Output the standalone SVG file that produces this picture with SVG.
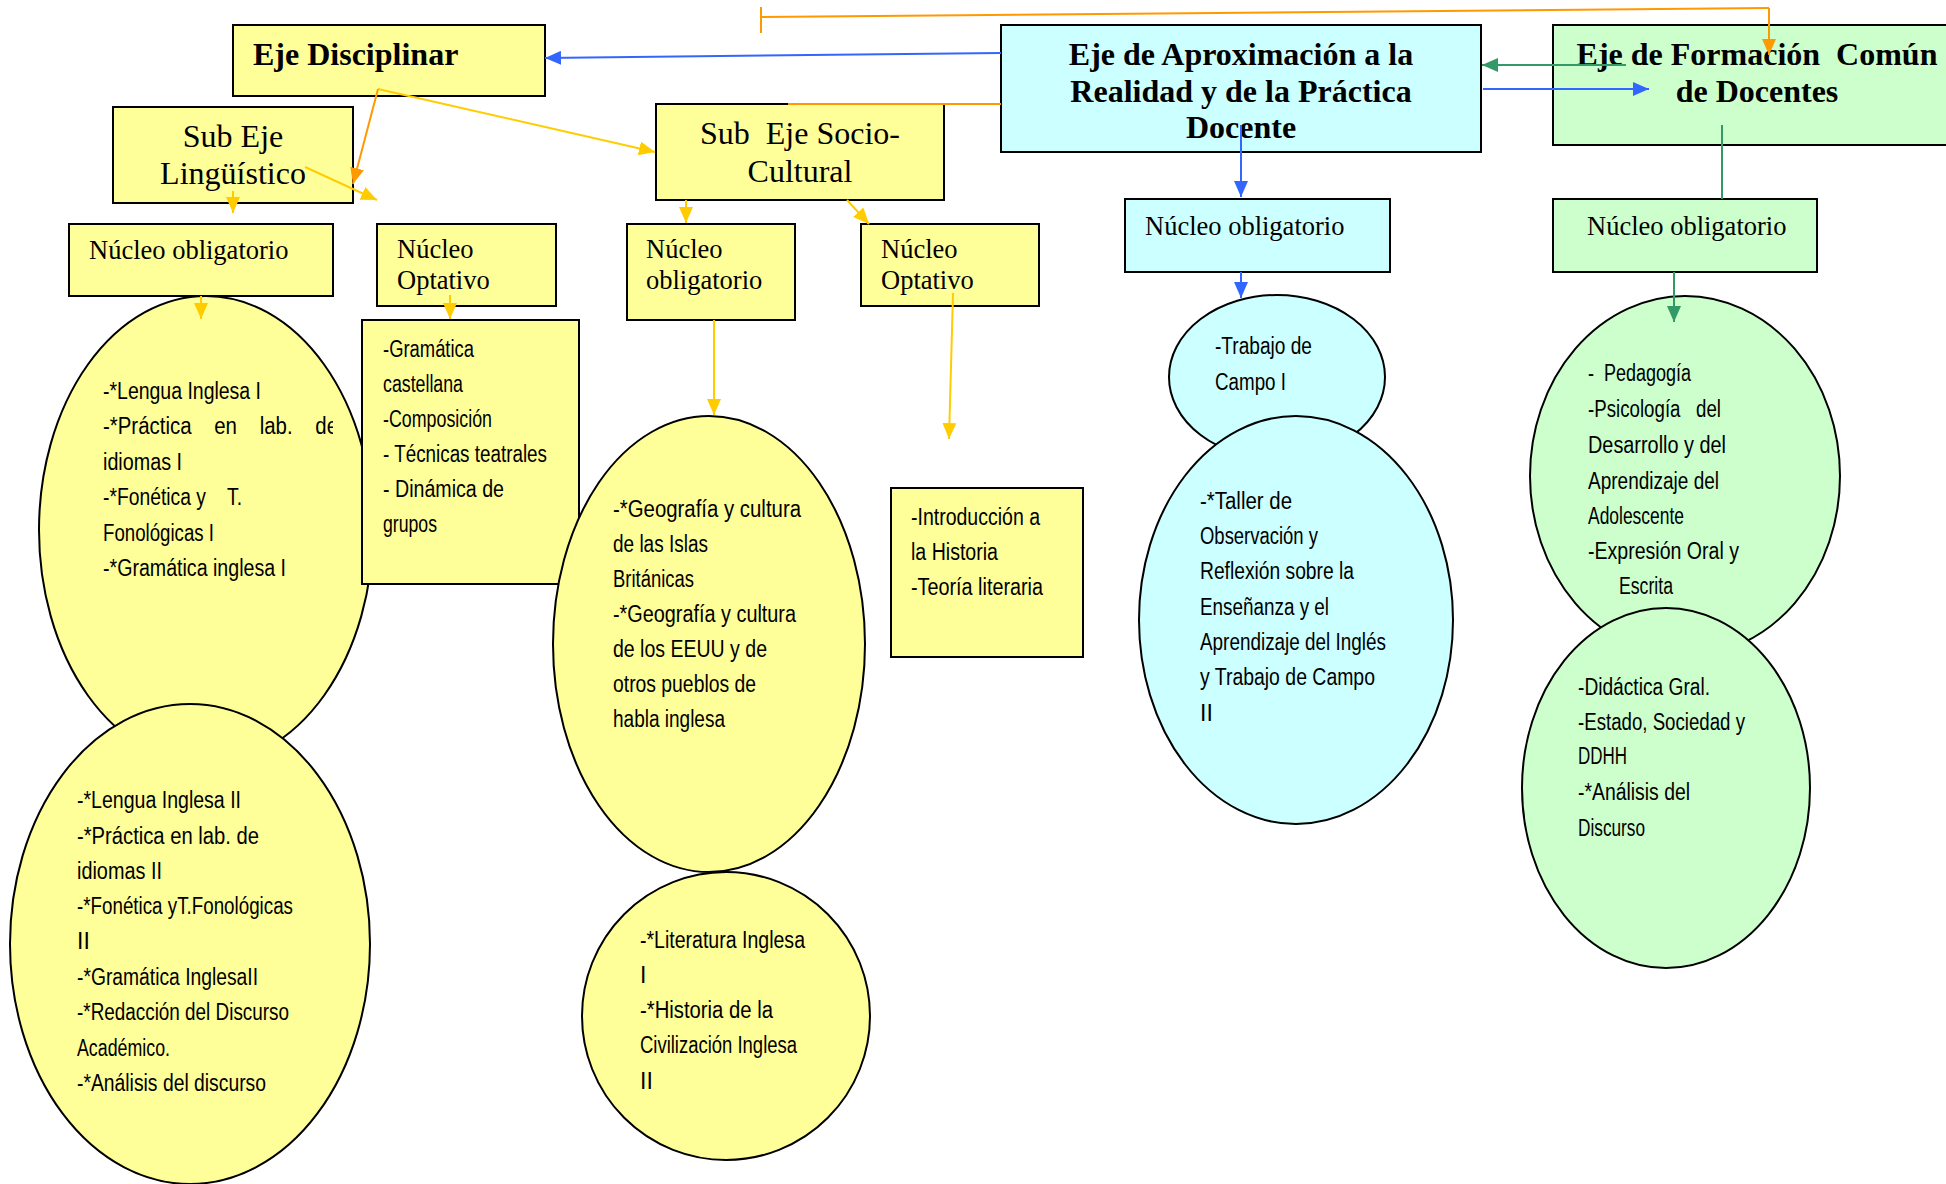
<svg xmlns="http://www.w3.org/2000/svg" width="1946" height="1184" viewBox="0 0 1946 1184">
<style>
.box{stroke:#000;stroke-width:2}
.y{fill:#FFFF99}
.c{fill:#CCFFFF}
.g{fill:#CCFFCC}
.hb{font-family:"Liberation Serif","Times New Roman",serif;font-weight:bold;font-size:32px;fill:#000}
.hr{font-family:"Liberation Serif","Times New Roman",serif;font-size:32px;fill:#000}
.nu{font-family:"Liberation Serif","Times New Roman",serif;font-size:26.5px;fill:#000}
.li{font-family:"Liberation Sans",Arial,sans-serif;font-size:23px;fill:#000}
.cy{fill:none;stroke:#FFCC00;stroke-width:2}
.co{fill:none;stroke:#FF9900;stroke-width:2}
.cb{fill:none;stroke:#3366FF;stroke-width:2}
.cg{fill:none;stroke:#339966;stroke-width:2}
</style>
<defs>
<marker id="ay" markerUnits="userSpaceOnUse" markerWidth="16" markerHeight="14" refX="16" refY="7" orient="auto"><path d="M0,0 L16,7 L0,14 z" fill="#FFCC00"/></marker>
<marker id="ao" markerUnits="userSpaceOnUse" markerWidth="16" markerHeight="14" refX="16" refY="7" orient="auto"><path d="M0,0 L16,7 L0,14 z" fill="#FF9900"/></marker>
<marker id="ab" markerUnits="userSpaceOnUse" markerWidth="16" markerHeight="14" refX="16" refY="7" orient="auto"><path d="M0,0 L16,7 L0,14 z" fill="#3366FF"/></marker>
<marker id="ag" markerUnits="userSpaceOnUse" markerWidth="16" markerHeight="14" refX="16" refY="7" orient="auto"><path d="M0,0 L16,7 L0,14 z" fill="#339966"/></marker>
<clipPath id="clipL1"><rect x="0" y="280" width="333" height="320"/></clipPath>
</defs>
<rect width="1946" height="1184" fill="#fff"/>

<g id="eje-disciplinar">
<rect class="box y" x="233" y="25" width="312" height="71"/>
<text class="hb" x="253" y="65">Eje Disciplinar</text>
</g>
<g id="eje-aproximacion">
<rect class="box c" x="1001" y="25" width="480" height="127"/>
<text class="hb" text-anchor="middle" x="1241" y="65">Eje de Aproximación a la</text>
<text class="hb" text-anchor="middle" x="1241" y="102">Realidad y de la Práctica</text>
<text class="hb" text-anchor="middle" x="1241" y="138">Docente</text>
</g>
<g id="eje-formacion">
<rect class="box g" x="1553" y="25" width="410" height="120"/>
<text class="hb" text-anchor="middle" x="1757" y="65" xml:space="preserve">Eje de Formación  Común</text>
<text class="hb" text-anchor="middle" x="1757" y="102">de Docentes</text>
</g>
<g id="sub-eje-linguistico">
<rect class="box y" x="113" y="107" width="240" height="96"/>
<text class="hr" text-anchor="middle" x="233" y="147">Sub Eje</text>
<text class="hr" text-anchor="middle" x="233" y="184">Lingüístico</text>
</g>
<g id="sub-eje-socio-cultural">
<rect class="box y" x="656" y="104" width="288" height="96"/>
<text class="hr" text-anchor="middle" x="800" y="144" xml:space="preserve">Sub  Eje Socio-</text>
<text class="hr" text-anchor="middle" x="800" y="182">Cultural</text>
</g>
<g id="nucleo-obligatorio-ling">
<rect class="box y" x="69" y="224" width="264" height="72"/>
<text class="nu" x="89" y="259">Núcleo obligatorio</text>
</g>
<g id="nucleo-optativo-ling">
<rect class="box y" x="377" y="224" width="179" height="82"/>
<text class="nu" x="397" y="258">Núcleo</text>
<text class="nu" x="397" y="289">Optativo</text>
</g>
<g id="nucleo-obligatorio-socio">
<rect class="box y" x="627" y="224" width="168" height="96"/>
<text class="nu" x="646" y="258">Núcleo</text>
<text class="nu" x="646" y="289">obligatorio</text>
</g>
<g id="nucleo-optativo-socio">
<rect class="box y" x="861" y="224" width="178" height="82"/>
<text class="nu" x="881" y="258">Núcleo</text>
<text class="nu" x="881" y="289">Optativo</text>
</g>
<g id="nucleo-obligatorio-aprox">
<rect class="box c" x="1125" y="199" width="265" height="73"/>
<text class="nu" x="1145" y="235">Núcleo obligatorio</text>
</g>
<g id="nucleo-obligatorio-formacion">
<rect class="box g" x="1553" y="199" width="264" height="73"/>
<text class="nu" x="1587" y="235">Núcleo obligatorio</text>
</g>

<g id="ling-lista-1">
<ellipse class="box y" cx="206" cy="530" rx="167" ry="234"/>
<g clip-path="url(#clipL1)">
<text class="li" x="103" y="399" textLength="158" lengthAdjust="spacingAndGlyphs">-*Lengua Inglesa I</text>
<text class="li" x="103" y="434" textLength="235" lengthAdjust="spacingAndGlyphs" xml:space="preserve">-*Práctica    en    lab.    de</text>
<text class="li" x="103" y="470" textLength="79" lengthAdjust="spacingAndGlyphs">idiomas I</text>
<text class="li" x="103" y="505" textLength="139" lengthAdjust="spacingAndGlyphs" xml:space="preserve">-*Fonética y    T.</text>
<text class="li" x="103" y="541" textLength="111" lengthAdjust="spacingAndGlyphs">Fonológicas I</text>
<text class="li" x="103" y="576" textLength="183" lengthAdjust="spacingAndGlyphs">-*Gramática inglesa I</text>
</g>
</g>
<g id="ling-lista-2">
<ellipse class="box y" cx="190" cy="944" rx="180" ry="240"/>
<text class="li" x="77" y="808" textLength="164" lengthAdjust="spacingAndGlyphs">-*Lengua Inglesa II</text>
<text class="li" x="77" y="844" textLength="182" lengthAdjust="spacingAndGlyphs">-*Práctica en lab. de</text>
<text class="li" x="77" y="879" textLength="85" lengthAdjust="spacingAndGlyphs">idiomas II</text>
<text class="li" x="77" y="914" textLength="216" lengthAdjust="spacingAndGlyphs">-*Fonética yT.Fonológicas</text>
<text class="li" x="77" y="949">II</text>
<text class="li" x="77" y="985" textLength="181" lengthAdjust="spacingAndGlyphs">-*Gramática InglesaII</text>
<text class="li" x="77" y="1020" textLength="212" lengthAdjust="spacingAndGlyphs">-*Redacción del Discurso</text>
<text class="li" x="77" y="1056" textLength="93" lengthAdjust="spacingAndGlyphs">Académico.</text>
<text class="li" x="77" y="1091" textLength="189" lengthAdjust="spacingAndGlyphs">-*Análisis del discurso</text>
</g>
<g id="ling-optativo-lista">
<rect class="box y" x="362" y="320" width="217" height="264"/>
<text class="li" x="383" y="357" textLength="91" lengthAdjust="spacingAndGlyphs">-Gramática</text>
<text class="li" x="383" y="392" textLength="80" lengthAdjust="spacingAndGlyphs">castellana</text>
<text class="li" x="383" y="427" textLength="109" lengthAdjust="spacingAndGlyphs">-Composición</text>
<text class="li" x="383" y="462" textLength="164" lengthAdjust="spacingAndGlyphs">- Técnicas teatrales</text>
<text class="li" x="383" y="497" textLength="121" lengthAdjust="spacingAndGlyphs">- Dinámica de</text>
<text class="li" x="383" y="532" textLength="54" lengthAdjust="spacingAndGlyphs">grupos</text>
</g>
<g id="socio-lista-1">
<ellipse class="box y" cx="709" cy="644" rx="156" ry="228"/>
<text class="li" x="613" y="517" textLength="188" lengthAdjust="spacingAndGlyphs">-*Geografía y cultura</text>
<text class="li" x="613" y="552" textLength="95" lengthAdjust="spacingAndGlyphs">de las Islas</text>
<text class="li" x="613" y="587" textLength="81" lengthAdjust="spacingAndGlyphs">Británicas</text>
<text class="li" x="613" y="622" textLength="183" lengthAdjust="spacingAndGlyphs">-*Geografía y cultura</text>
<text class="li" x="613" y="657" textLength="154" lengthAdjust="spacingAndGlyphs">de los EEUU y de</text>
<text class="li" x="613" y="692" textLength="143" lengthAdjust="spacingAndGlyphs">otros pueblos de</text>
<text class="li" x="613" y="727" textLength="112" lengthAdjust="spacingAndGlyphs">habla inglesa</text>
</g>
<g id="socio-lista-2">
<ellipse class="box y" cx="726" cy="1016" rx="144" ry="144"/>
<text class="li" x="640" y="948" textLength="165" lengthAdjust="spacingAndGlyphs">-*Literatura Inglesa</text>
<text class="li" x="640" y="983">I</text>
<text class="li" x="640" y="1018" textLength="133" lengthAdjust="spacingAndGlyphs">-*Historia de la</text>
<text class="li" x="640" y="1053" textLength="157" lengthAdjust="spacingAndGlyphs">Civilización Inglesa</text>
<text class="li" x="640" y="1089">II</text>
</g>
<g id="socio-optativo-lista">
<rect class="box y" x="891" y="488" width="192" height="169"/>
<text class="li" x="911" y="525" textLength="129" lengthAdjust="spacingAndGlyphs">-Introducción a</text>
<text class="li" x="911" y="560" textLength="87" lengthAdjust="spacingAndGlyphs">la Historia</text>
<text class="li" x="911" y="595" textLength="132" lengthAdjust="spacingAndGlyphs">-Teoría literaria</text>
</g>
<g id="aprox-lista-1">
<ellipse class="box c" cx="1277" cy="377" rx="108" ry="82"/>
<text class="li" x="1215" y="354" textLength="97" lengthAdjust="spacingAndGlyphs">-Trabajo de</text>
<text class="li" x="1215" y="390" textLength="71" lengthAdjust="spacingAndGlyphs">Campo I</text>
</g>
<g id="aprox-lista-2">
<ellipse class="box c" cx="1296" cy="620" rx="157" ry="204"/>
<text class="li" x="1200" y="509" textLength="92" lengthAdjust="spacingAndGlyphs">-*Taller de</text>
<text class="li" x="1200" y="544" textLength="118" lengthAdjust="spacingAndGlyphs">Observación y</text>
<text class="li" x="1200" y="579" textLength="154" lengthAdjust="spacingAndGlyphs">Reflexión sobre la</text>
<text class="li" x="1200" y="615" textLength="129" lengthAdjust="spacingAndGlyphs">Enseñanza y el</text>
<text class="li" x="1200" y="650" textLength="186" lengthAdjust="spacingAndGlyphs">Aprendizaje del Inglés</text>
<text class="li" x="1200" y="685" textLength="175" lengthAdjust="spacingAndGlyphs">y Trabajo de Campo</text>
<text class="li" x="1200" y="721">II</text>
</g>
<g id="formacion-lista-1">
<ellipse class="box g" cx="1685" cy="476" rx="155" ry="180"/>
<text class="li" x="1588" y="381" textLength="103" lengthAdjust="spacingAndGlyphs" xml:space="preserve">-  Pedagogía</text>
<text class="li" x="1588" y="417" textLength="133" lengthAdjust="spacingAndGlyphs" xml:space="preserve">-Psicología   del</text>
<text class="li" x="1588" y="453" textLength="138" lengthAdjust="spacingAndGlyphs">Desarrollo y del</text>
<text class="li" x="1588" y="489" textLength="131" lengthAdjust="spacingAndGlyphs">Aprendizaje del</text>
<text class="li" x="1588" y="524" textLength="96" lengthAdjust="spacingAndGlyphs">Adolescente</text>
<text class="li" x="1588" y="559" textLength="151" lengthAdjust="spacingAndGlyphs">-Expresión Oral y</text>
<text class="li" x="1619" y="594" textLength="54" lengthAdjust="spacingAndGlyphs">Escrita</text>
</g>
<g id="formacion-lista-2">
<ellipse class="box g" cx="1666" cy="788" rx="144" ry="180"/>
<text class="li" x="1578" y="695" textLength="132" lengthAdjust="spacingAndGlyphs">-Didáctica Gral.</text>
<text class="li" x="1578" y="730" textLength="167" lengthAdjust="spacingAndGlyphs">-Estado, Sociedad y</text>
<text class="li" x="1578" y="764" textLength="49" lengthAdjust="spacingAndGlyphs">DDHH</text>
<text class="li" x="1578" y="800" textLength="112" lengthAdjust="spacingAndGlyphs">-*Análisis del</text>
<text class="li" x="1578" y="836" textLength="67" lengthAdjust="spacingAndGlyphs">Discurso</text>
</g>

<g id="connectors">
<line class="cy" x1="378" y1="89" x2="655" y2="152" marker-end="url(#ay)"/>
<line class="co" x1="378" y1="89" x2="353" y2="184" marker-end="url(#ao)"/>
<line class="cy" x1="305" y1="167" x2="377" y2="200" marker-end="url(#ay)"/>
<line class="cy" x1="233" y1="191" x2="233" y2="213" marker-end="url(#ay)"/>
<line class="cy" x1="686" y1="200" x2="686" y2="223" marker-end="url(#ay)"/>
<line class="cy" x1="847" y1="200" x2="869" y2="224" marker-end="url(#ay)"/>
<line class="cy" x1="201" y1="296" x2="201" y2="319" marker-end="url(#ay)"/>
<line class="cy" x1="450" y1="295" x2="450" y2="319" marker-end="url(#ay)"/>
<line class="cy" x1="714" y1="320" x2="714" y2="415" marker-end="url(#ay)"/>
<line class="cy" x1="953" y1="293" x2="949" y2="439" marker-end="url(#ay)"/>
<line class="cb" x1="1001" y1="53" x2="545" y2="58" marker-end="url(#ab)"/>
<line class="cb" x1="1483" y1="89" x2="1649" y2="89" marker-end="url(#ab)"/>
<line class="cb" x1="1241" y1="125" x2="1241" y2="197" marker-end="url(#ab)"/>
<line class="cb" x1="1241" y1="272" x2="1241" y2="298" marker-end="url(#ab)"/>
<line class="cg" x1="1626" y1="65" x2="1482" y2="65" marker-end="url(#ag)"/>
<line class="cg" x1="1722" y1="125" x2="1722" y2="199"/>
<line class="cg" x1="1674" y1="272" x2="1674" y2="322" marker-end="url(#ag)"/>
<line class="co" x1="761" y1="7" x2="761" y2="33" stroke-width="1.5"/>
<line class="co" x1="761" y1="17" x2="1769" y2="8" stroke-width="3"/>
<line class="co" x1="1769" y1="8" x2="1769" y2="55" stroke-width="1.5" marker-end="url(#ao)"/>
<line class="co" x1="788" y1="104" x2="1001" y2="104" stroke-width="2.5"/>
</g>
</svg>
